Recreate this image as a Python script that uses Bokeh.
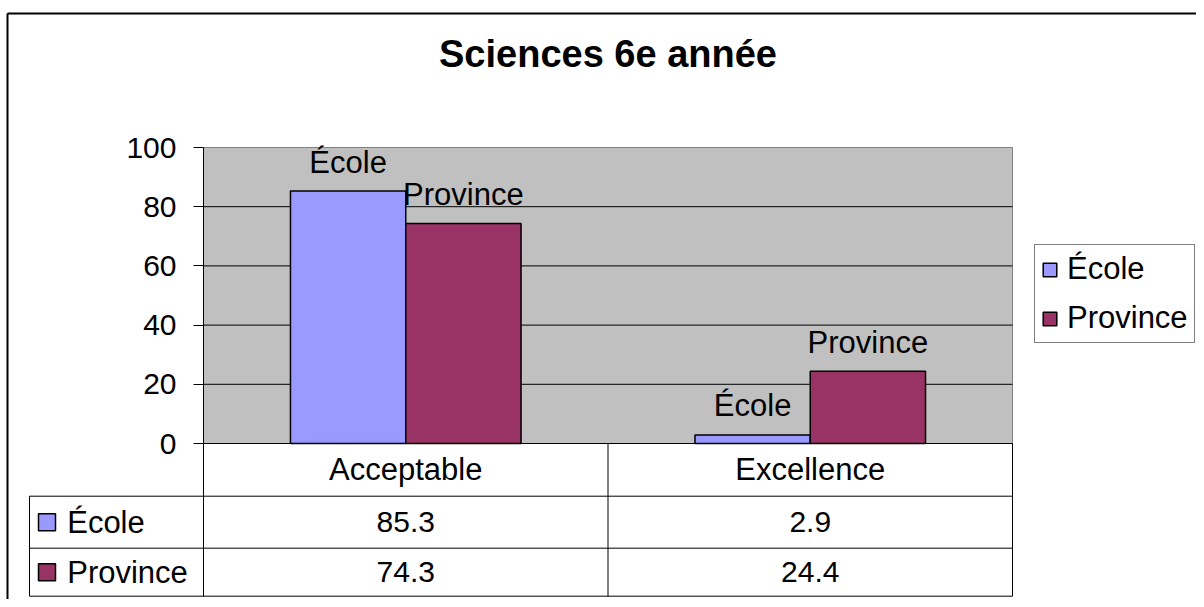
from bokeh.plotting import figure
from bokeh.models import Range1d, FixedTicker, Legend, LegendItem, ColumnDataSource
from bokeh.embed import file_html
from bokeh.resources import INLINE
from bokeh.core.properties import value

# ---- data ----
title_text = "Sciences 6e année"
categories = ["Acceptable", "Excellence"]
series = ["École", "Province"]
ecole = [85.3, 2.9]
province = [74.3, 24.4]
colors = ["#9999FF", "#993366"]
y_ticks = [0, 20, 40, 60, 80, 100]

# ---- layout helpers (page pixel -> data units) ----
FONT = "Liberation Sans"
PX_X = 404.5      # pixels per category
PX_Y = 2.96       # pixels per y unit
X0_PAGE, Y0_PAGE = 203, 443
ORIGIN = 0
W, H = 1196, 599


def xd(px):
    return (px - X0_PAGE) / PX_X


def yd(py):
    return (Y0_PAGE - py) / PX_Y


nc = len(categories)
ymax = max(y_ticks)

p = figure(width=W, height=H,
           x_range=Range1d(xd(ORIGIN), xd(ORIGIN + W)),
           y_range=Range1d(yd(ORIGIN + H), yd(ORIGIN)),
           output_backend="svg", toolbar_location=None, title=None,
           x_axis_location=None, y_axis_location="left",
           min_border=0, min_border_left=0, min_border_right=0,
           min_border_top=0, min_border_bottom=0,
           outline_line_color=None,
           background_fill_color="white", border_fill_color="white")

# plot area background
p.quad(left=[0], right=[nc], bottom=[0], top=[ymax],
       fill_color="#C0C0C0", line_color="#808080", line_width=1, level="image")

# y axis
ax = p.yaxis[0]
ax.fixed_location = 0
ax.ticker = FixedTicker(ticks=y_ticks)
ax.bounds = (0, ymax)
ax.axis_line_color = "black"
ax.axis_line_width = 1
ax.major_tick_line_color = "black"
ax.major_tick_out = 10
ax.major_tick_in = 0
ax.minor_tick_line_color = None
ax.major_label_standoff = 17
ax.major_label_text_font = FONT
ax.major_label_text_font_size = "30px"
ax.major_label_text_color = "black"

# grid lines inside the plot area only
p.ygrid.visible = False
p.xgrid.visible = False
gy = y_ticks[1:-1]
p.segment(x0=[0] * len(gy), y0=gy, x1=[nc] * len(gy), y1=gy,
          line_color="black", line_width=1)

# bars + labels
bw = 0.285
offsets = [-bw / 2, bw / 2]
renderers = []
for s, vals, col, off in zip(series, [ecole, province], colors, offsets):
    src = ColumnDataSource(dict(x=[i + 0.5 + off for i in range(nc)],
                                top=vals, label=[s] * nc))
    r = p.vbar(x="x", top="top", bottom=0, width=bw, source=src,
               fill_color=col, line_color="black", line_width=1.5)
    renderers.append(r)
    p.text(x="x", y="top", text="label", source=src, text_align="center",
           text_baseline="alphabetic", y_offset=-29,
           text_font=value(FONT), text_font_size="31px", text_color="black")

# data table
xh = xd(29)
rows = [0, yd(495.7), yd(547.7), yd(595.7)]
p.segment(x0=[0, xh, xh, xh], y0=rows, x1=[nc] * 4, y1=rows,
          line_color="black", line_width=1)
vx = list(range(nc + 1)) + [xh]
p.segment(x0=vx, y0=[0] * (nc + 1) + [rows[1]], x1=vx, y1=[rows[3]] * (nc + 2),
          line_color="black", line_width=1)

cat_y = (rows[0] + rows[1]) / 2
row_y = [(rows[1] + rows[2]) / 2, (rows[2] + rows[3]) / 2]
p.text(x=[i + 0.5 for i in range(nc)], y=[cat_y] * nc, text=categories,
       text_align="center", text_baseline="middle",
       text_font=value(FONT), text_font_size="31px", text_color="black")
for vals, ry in zip([ecole, province], row_y):
    p.text(x=[i + 0.5 for i in range(nc)], y=[ry] * nc,
           text=[f"{v:.1f}" for v in vals],
           text_align="center", text_baseline="middle",
           text_font=value(FONT), text_font_size="30px", text_color="black")
p.scatter(x=[xd(46.5)] * 2, y=row_y, marker="square", size=17,
          fill_color=colors, line_color="black", line_width=1.5)
p.text(x=[xd(66.7)] * 2, y=row_y, text=series, text_align="left",
       text_baseline="middle", text_font=value(FONT), text_font_size="31px",
       text_color="black")

# title
p.text(x=[nc / 2], y=[yd(63)], text=[title_text], text_align="center",
       text_baseline="alphabetic", y_offset=-10, text_font=value(FONT),
       text_font_size="38px", text_font_style="bold", text_color="black")

# outer chart border (left and top)
p.segment(x0=[xd(7), xd(7)], y0=[yd(13), yd(13)],
          x1=[xd(7), xd(ORIGIN + W + 5)], y1=[yd(ORIGIN + H + 5), yd(13)],
          line_color="black", line_width=2)

# legend
legend = Legend(items=[LegendItem(label=s, renderers=[r]) for s, r in zip(series, renderers)],
                location=(1034 - ORIGIN, (ORIGIN + H) - 343), orientation="vertical",
                glyph_width=17, glyph_height=17, label_standoff=9,
                label_text_font=FONT, label_text_font_size="31px",
                label_text_color="black", label_height=30,
                spacing=13, padding=6, margin=0,
                border_line_color="black", border_line_width=1,
                background_fill_color="white", background_fill_alpha=1)
p.add_layout(legend, "center")

open("out.html", "w").write(file_html(p, INLINE))
